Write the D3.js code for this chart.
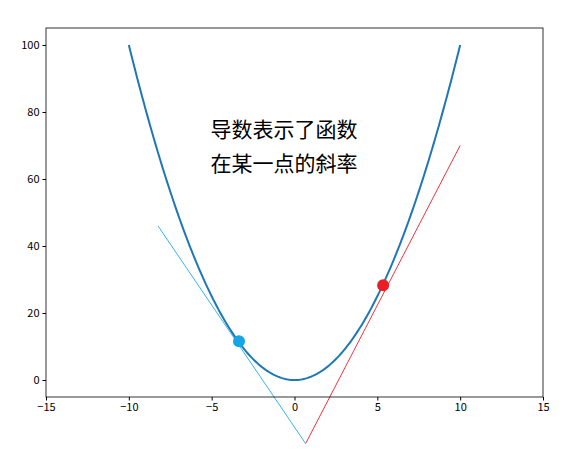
<!DOCTYPE html>
<html><head><meta charset="utf-8">
<script src="https://cdn.jsdelivr.net/npm/d3@7"></script>
<style>body{margin:0;background:#fff}text{font-family:"Noto Sans CJK SC","DejaVu Sans",sans-serif}</style>
</head><body><svg id="c" width="573" height="473"></svg>
<script>
const curveX = d3.range(-10, 10.001, 0.1);
const curveY = curveX.map(x => x * x);
const blueLineX = [-8.24, 0.69], blueLineY = [46, -19.1];
const redLineX = [0.69, 10], redLineY = [-18.8, 70];
const bluePoint = [-3.35, 11.6], redPoint = [5.35, 28.3];
const xTicks = [-15, -10, -5, 0, 5, 10, 15];
const yTicks = [0, 20, 40, 60, 80, 100];
const labels = ["导数表示了函数", "在某一点的斜率"];

const svg = d3.select("#c");
const x = d3.scaleLinear().domain([-15, 15]).range([46, 543]);
const y = d3.scaleLinear().domain([-5.07, 105.07]).range([397, 28]);
const line = d3.line().x(d => x(d[0])).y(d => y(d[1]));

svg.append("path").datum(curveX.map((v, i) => [v, curveY[i]]))
  .attr("d", line).attr("fill", "none").attr("stroke", "#1f77b4").attr("stroke-width", 2);
svg.append("path").datum(blueLineX.map((v, i) => [v, blueLineY[i]]))
  .attr("d", line).attr("stroke", "#00a2e8").attr("stroke-width", 0.8);
svg.append("path").datum(redLineX.map((v, i) => [v, redLineY[i]]))
  .attr("d", line).attr("stroke", "#e8000b").attr("stroke-width", 0.8);
svg.append("circle").attr("cx", x(bluePoint[0])).attr("cy", y(bluePoint[1])).attr("r", 6).attr("fill", "#14a5e6");
svg.append("circle").attr("cx", x(redPoint[0])).attr("cy", y(redPoint[1])).attr("r", 6).attr("fill", "#ee1c25");

labels.forEach((t, i) => svg.append("text").attr("x", 284).attr("y", 137 + i * 34)
  .attr("text-anchor", "middle").attr("font-size", 21).text(t));

svg.append("g").attr("transform", "translate(0,397)")
  .call(d3.axisBottom(x).tickValues(xTicks).tickSize(3.5).tickSizeOuter(0))
  .call(g => g.select(".domain").remove());
svg.append("g").attr("transform", "translate(46,0)")
  .call(d3.axisLeft(y).tickValues(yTicks).tickSize(3.5).tickSizeOuter(0))
  .call(g => g.select(".domain").remove());
svg.selectAll(".tick text").attr("font-size", 11).attr("fill", "#000");
svg.append("rect").attr("x", 46).attr("y", 28).attr("width", 497).attr("height", 369)
  .attr("fill", "none").attr("stroke", "#000").attr("stroke-width", 0.8);
</script></body></html>
